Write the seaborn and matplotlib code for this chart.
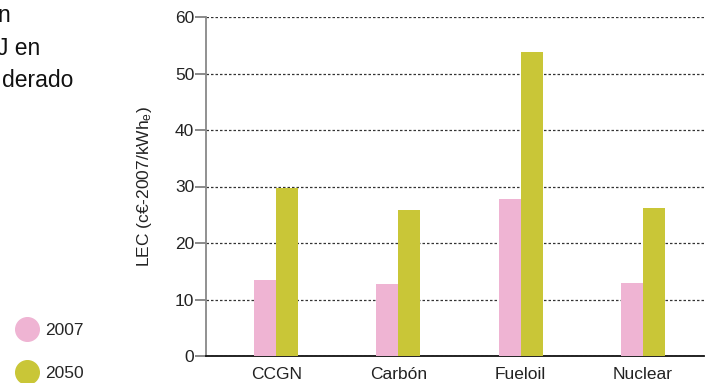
import pandas as pd
import numpy as np
import matplotlib
matplotlib.use("Agg")
import matplotlib.pyplot as plt
import seaborn as sns
from matplotlib.lines import Line2D

# Data
tecnologias = ["CCGN", "Carbón", "Fueloil", "Nuclear"]
lec_2007 = [13.5, 12.7, 27.8, 12.9]
lec_2050 = [29.8, 25.8, 53.8, 26.2]
anios = ["2007", "2050"]
colores = ["#EFB4D3", "#C9C637"]

df = pd.DataFrame({
    "tecnologia": tecnologias * 2,
    "anio": [anios[0]] * 4 + [anios[1]] * 4,
    "lec": lec_2007 + lec_2050,
})

sns.set_style("white")
plt.rcParams["font.family"] = ["Liberation Sans", "DejaVu Sans"]
plt.rcParams["mathtext.default"] = "regular"

fig = plt.figure(figsize=(7.11, 3.83), dpi=100)
ax = fig.add_axes([206 / 711, 1 - 356 / 383, (704 - 206) / 711, (356 - 17) / 383])

sns.barplot(data=df, x="tecnologia", y="lec", hue="anio", palette=colores,
            width=0.36, gap=0, saturation=1, legend=False, ax=ax, zorder=3,
            linewidth=0, edgecolor="none")

ax.set_ylim(0, 60)
ax.set_xlim(-0.574, 3.5)
ax.set_yticks(range(0, 61, 10))
ax.yaxis.grid(True, linestyle=(0, (2, 1.6)), color="#333333", linewidth=0.9, zorder=0)
ax.set_axisbelow(True)

# category separators on the x axis
ax.set_xticks([-0.574, 0.5, 1.5, 2.5, 3.5], minor=True)
ax.tick_params(axis="x", which="major", length=0, labelsize=12.5, pad=8,
               labelcolor="#222222")
ax.tick_params(axis="x", which="minor", length=7, color="#777777", width=1.2, direction="out")
ax.tick_params(axis="y", length=8, color="#777777", width=1.2, labelsize=12.5,
               pad=0.5, labelcolor="#222222", left=True)

for s in ["top", "right"]:
    ax.spines[s].set_visible(False)
ax.spines["left"].set_color("#888888")
ax.spines["left"].set_linewidth(1.3)
ax.spines["bottom"].set_color("#111111")
ax.spines["bottom"].set_linewidth(1.3)

ax.set_xlabel("")
ax.set_ylabel("LEC (c€-2007/kWh$_{e}$)", fontsize=12.5, labelpad=15, color="#222222")

# title fragments cut at the left edge
fig.text(10 / 711, 1 - 22 / 383, "n", ha="right", va="baseline", fontsize=16.5, color="#111111")
fig.text(40 / 711, 1 - 55 / 383, "J en", ha="right", va="baseline", fontsize=16.5, color="#111111")
fig.text(73 / 711, 1 - 87 / 383, "derado", ha="right", va="baseline", fontsize=16.5, color="#111111")

handles = [Line2D([], [], marker="o", linestyle="", markersize=17,
                  markerfacecolor=c, markeredgecolor=c) for c in colores]
fig.legend(handles, anios, loc="upper left", bbox_to_anchor=(10 / 711, 1 - 318 / 383),
           frameon=False, fontsize=12.5, handletextpad=0.3, labelspacing=1.57,
           borderaxespad=0, borderpad=0.3, handlelength=1.4)

fig.savefig("out.png", dpi=100)
